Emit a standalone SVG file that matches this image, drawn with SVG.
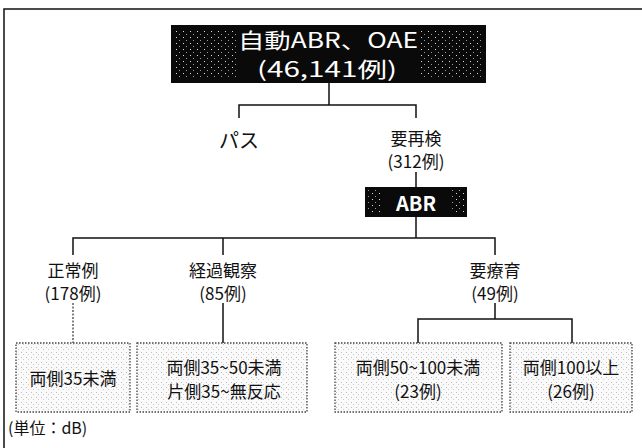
<svg xmlns="http://www.w3.org/2000/svg" width="642" height="448" viewBox="0 0 642 448">
<style>
text{font-family:"Noto Sans CJK JP","Liberation Sans",sans-serif;fill:#111;text-anchor:middle;dominant-baseline:central}
.w{fill:#fff}
.lbl{font-size:17px}
.bx{font-size:17px}
.ln{stroke:#111;stroke-width:1.5;fill:none}
.dot{stroke:#333;stroke-width:1.2;fill:none;stroke-dasharray:2 1.5}
.sb{fill:url(#stip);stroke:#444;stroke-width:1.3;stroke-dasharray:1.5 1.5}
</style>
<defs>
<pattern id="stip" width="5" height="5" patternUnits="userSpaceOnUse">
<rect width="5" height="5" fill="#fafafa"/>
<rect x="1" y="2" width="1" height="1" fill="#bbb"/>
<rect x="3" y="4" width="1" height="1" fill="#ccc"/>
</pattern>
<pattern id="spk" width="7" height="6" patternUnits="userSpaceOnUse">
<rect x="1" y="1" width="1" height="1" fill="#ddd"/>
<rect x="4" y="4" width="1" height="1" fill="#999"/>
</pattern>
</defs>
<path class="ln" d="M4 448V9H642"/>
<g id="connectors">
<path class="ln" d="M329 83V105M239 118V105H416V118"/>
<path class="ln" d="M416 172V187"/>
<path class="ln" d="M416 217V238M73 255V238H495V255M223 238V255"/>
<path class="dot" d="M73 303V343"/>
<path class="ln" d="M223 303V343"/>
<path class="ln" d="M495 303V319M418 343V319H572V343"/>
</g>
<g id="top">
<rect x="171" y="25" width="315" height="58" fill="#0a0a0a"/>
<rect x="176" y="29" width="60" height="50" fill="url(#spk)"/>
<rect x="420" y="29" width="62" height="50" fill="url(#spk)"/>
<text class="w" x="328" y="39" font-size="21" textLength="180" lengthAdjust="spacingAndGlyphs">自動ABR、OAE</text>
<text class="w" x="327" y="68" font-size="21" textLength="140" lengthAdjust="spacingAndGlyphs">(46,141例)</text>
</g>
<g id="pass"><text x="239" y="139" font-size="20">パス</text></g>
<g id="recheck">
<text class="lbl" x="416" y="137">要再検</text>
<text class="lbl" x="416" y="160">(312例)</text>
</g>
<g id="abr">
<rect x="365" y="187" width="102" height="30" fill="#0a0a0a"/>
<rect x="368" y="190" width="14" height="24" fill="url(#spk)"/>
<rect x="451" y="190" width="14" height="24" fill="url(#spk)"/>
<text class="w" x="416" y="202" font-size="20" font-weight="bold">ABR</text>
</g>
<g id="normal">
<text class="lbl" x="73" y="269">正常例</text>
<text class="lbl" x="73" y="292">(178例)</text>
</g>
<g id="observe">
<text class="lbl" x="223" y="269">経過観察</text>
<text class="lbl" x="223" y="292">(85例)</text>
</g>
<g id="therapy">
<text class="lbl" x="495" y="269">要療育</text>
<text class="lbl" x="495" y="292">(49例)</text>
</g>
<g id="b1">
<rect class="sb" x="16" y="343" width="114" height="69"/>
<text class="bx" x="73" y="377">両側35未満</text>
</g>
<g id="b2">
<rect class="sb" x="137" y="343" width="170" height="69"/>
<text class="bx" x="224" y="366">両側35~50未満</text>
<text class="bx" x="224" y="390">片側35~無反応</text>
</g>
<g id="b3">
<rect class="sb" x="335" y="343" width="167" height="69"/>
<text class="bx" x="418" y="366">両側50~100未満</text>
<text class="bx" x="418" y="390">(23例)</text>
</g>
<g id="b4">
<rect class="sb" x="510" y="343" width="122" height="69"/>
<text class="bx" x="571" y="366">両側100以上</text>
<text class="bx" x="571" y="390">(26例)</text>
</g>
<text x="8" y="427" font-size="16" style="text-anchor:start">(単位：dB)</text>
</svg>
